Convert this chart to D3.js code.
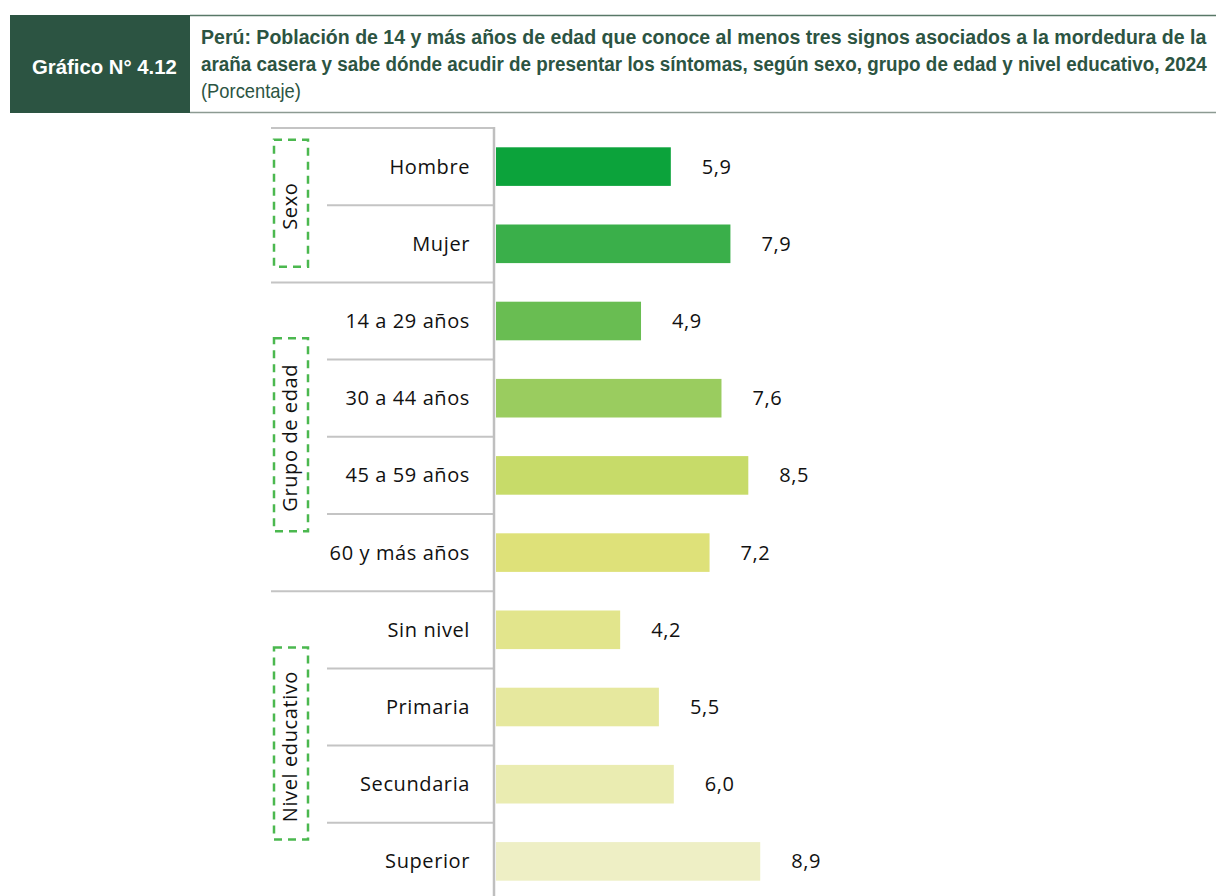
<!DOCTYPE html>
<html>
<head>
<meta charset="utf-8">
<title>Gráfico 4.12</title>
<script src="https://d3js.org/d3.v7.min.js"></script>
<style>
body { margin: 0; background: #fff; }
svg { display: block; }
.head { font-family: "Liberation Sans Narrow", "Arial Narrow", "Liberation Sans", sans-serif; }
.lbl { font-family: "Open Sans", "Noto Sans", sans-serif; fill: #111; letter-spacing: 0.6px; }
</style>
</head>
<body>
<svg width="1216" height="896"></svg>
<script>

// data
var categories = ["Hombre", "Mujer", "14 a 29 años", "30 a 44 años", "45 a 59 años",
                  "60 y más años", "Sin nivel", "Primaria", "Secundaria", "Superior"];
var values = [5.9, 7.9, 4.9, 7.6, 8.5, 7.2, 4.2, 5.5, 6.0, 8.9];
var barColors = ["#0ca33b", "#3aaf4a", "#69bd52", "#9acc5f", "#c7db69",
                 "#dee179", "#e2e58c", "#e6e89e", "#eaecb1", "#eeefc5"];
var groupNames = ["Sexo", "Grupo de edad", "Nivel educativo"];
var groupFirst = [0, 2, 6];
var groupLast = [1, 5, 9];

var titleLines = [
  "Perú: Población de 14 y más años de edad que conoce al menos tres signos asociados a la mordedura de la",
  "araña casera y sabe dónde acudir de presentar los síntomas, según sexo, grupo de edad y nivel educativo, 2024"
];

var svg = d3.select("svg");
var darkGreen = "#2c5442";

// squeeze a text to a given width (narrow header font)
function fitWidth(sel, x0, y0, w) {
  var len = sel.node().getComputedTextLength();
  sel.attr("transform", "translate(" + x0 + "," + y0 + ") scale(" + (w / len) + ",1)");
}

// ---- header
svg.append("rect").attr("x", 10).attr("y", 15).attr("width", 180).attr("height", 98)
  .attr("fill", darkGreen);
var g1 = svg.append("text").attr("class", "head")
  .attr("text-anchor", "start")
  .attr("font-size", 20).attr("font-weight", "bold").attr("fill", "#fff")
  .text("Gráfico N° 4.12");
fitWidth(g1, 32, 74, 145);

svg.append("line").attr("x1", 190).attr("x2", 1216).attr("y1", 15.5).attr("y2", 15.5)
  .attr("stroke", "#587867").attr("stroke-width", 1.5);
svg.append("line").attr("x1", 190).attr("x2", 1216).attr("y1", 112.5).attr("y2", 112.5)
  .attr("stroke", "#8c9a92").attr("stroke-width", 1.5);

titleLines.forEach(function (t, i) {
  var tx = svg.append("text").attr("class", "head")
    .attr("font-size", 20.5).attr("font-weight", "bold").attr("fill", darkGreen)
    .text(t);
  fitWidth(tx, 201, 44 + i * 27, 1006);
});
var sub = svg.append("text").attr("class", "head")
  .attr("font-size", 20.5).attr("fill", darkGreen)
  .text("(Porcentaje)");
fitWidth(sub, 201, 98, 100);

// ---- scales
var x = d3.scaleLinear().domain([0, 10]).range([495, 793]);
var y = d3.scaleBand().domain(categories).range([128, 900]).paddingInner(0.5).paddingOuter(0.25);
var step = y.step();
var top0 = 128;

// separators between rows
var bounds = d3.range(categories.length + 1);
svg.selectAll("line.sep").data(bounds).enter().append("line")
  .attr("class", "sep")
  .attr("x1", function (i) { return groupFirst.indexOf(i) >= 0 || i === categories.length ? 271 : 327; })
  .attr("x2", 494)
  .attr("y1", function (i) { return top0 + i * step; })
  .attr("y2", function (i) { return top0 + i * step; })
  .attr("stroke", "#c4c4c4").attr("stroke-width", 2);

// axis line
svg.append("line").attr("x1", 494).attr("x2", 494).attr("y1", 127).attr("y2", 900)
  .attr("stroke", "#bfbfbf").attr("stroke-width", 2.5);

// bars
svg.selectAll("rect.bar").data(values).enter().append("rect")
  .attr("class", "bar")
  .attr("x", x(0) + 1)
  .attr("y", function (d, i) { return y(categories[i]); })
  .attr("width", function (d) { return x(d) - x(0) - 1; })
  .attr("height", y.bandwidth())
  .attr("fill", function (d, i) { return barColors[i]; });

// value labels
svg.selectAll("text.val").data(values).enter().append("text")
  .attr("class", "lbl val")
  .attr("x", function (d) { return x(d) + 31; })
  .attr("y", function (d, i) { return y(categories[i]) + y.bandwidth() / 2 + 7; })
  .attr("font-size", 20)
  .text(function (d) { return d.toFixed(1).replace(".", ","); });

// category labels
svg.selectAll("text.cat").data(categories).enter().append("text")
  .attr("class", "lbl cat")
  .attr("x", 470)
  .attr("y", function (d) { return y(d) + y.bandwidth() / 2 + 7; })
  .attr("text-anchor", "end")
  .attr("font-size", 20)
  .text(function (d) { return d; });

// group boxes
var boxH = [127, 193, 192];
groupNames.forEach(function (name, g) {
  var y0 = top0 + groupFirst[g] * step;
  var y1 = top0 + (groupLast[g] + 1) * step;
  var cy = (y0 + y1) / 2 - 2;
  svg.append("rect")
    .attr("x", 274).attr("y", cy - boxH[g] / 2)
    .attr("width", 34).attr("height", boxH[g])
    .attr("fill", "none").attr("stroke", "#4bb84f").attr("stroke-width", 2.5)
    .attr("stroke-dasharray", "8,6");
  svg.append("text")
    .attr("class", "lbl")
    .attr("transform", "translate(297," + (cy + 3) + ") rotate(-90)")
    .attr("text-anchor", "middle")
    .attr("font-size", 20)
    .text(name);
});

</script>
</body>
</html>
